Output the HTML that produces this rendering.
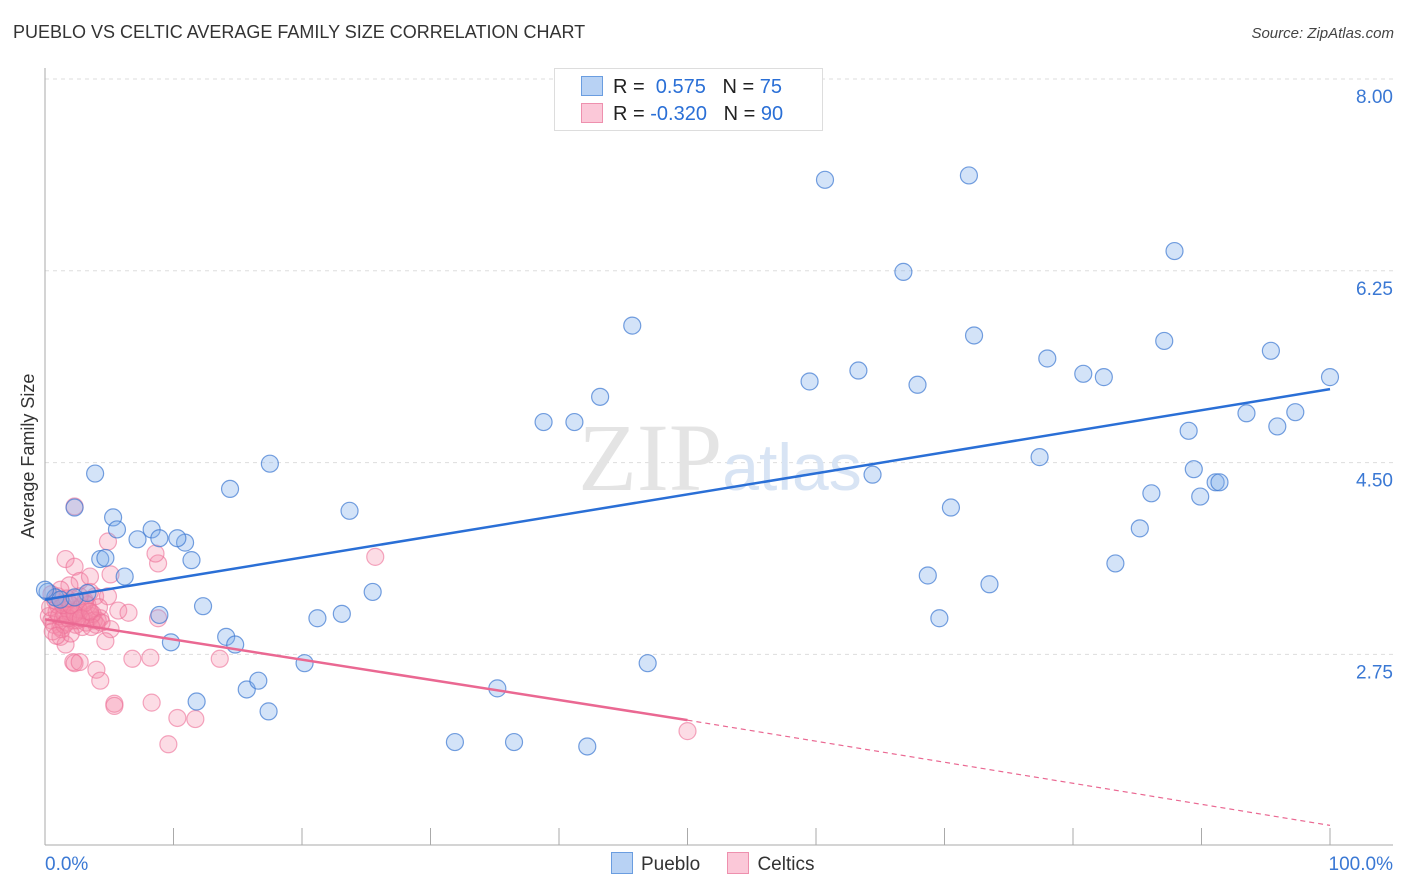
<!DOCTYPE html>
<html><head><meta charset="utf-8"><style>
body{margin:0;background:#fff;font-family:"Liberation Sans",sans-serif;}
#wrap{position:relative;width:1406px;height:892px;overflow:hidden;}
.t{position:absolute;white-space:nowrap;}
</style></head><body>
<div id="wrap">
<div class="t" style="left:13px;top:22px;font-size:18px;color:#333;">PUEBLO VS CELTIC AVERAGE FAMILY SIZE CORRELATION CHART</div>
<div class="t" style="right:12px;top:25px;font-size:15px;font-style:italic;color:#444;">Source: ZipAtlas.com</div>
<svg id="chart" width="1406" height="892" style="position:absolute;left:0;top:0"></svg>
</div>
<script>
const yTicks=[8.00,6.25,4.50,2.75];
const xLabels=["0.0%","100.0%"];
const puebloX=[0.2,0.8,3.3,2.3,3.9,5.3,5.6,4.3,4.7,6.2,7.2,8.3,8.9,10.9,11.4,10.3,8.9,9.8,12.3,14.1,14.8,14.4,17.5,11.8,15.7,16.6,17.4,20.2,21.2,23.1,23.7,25.5,31.9,35.2,36.5,42.2,38.8,41.2,43.2,45.7,46.9,59.5,60.7,63.3,64.4,66.8,67.9,68.7,69.6,70.5,71.9,72.3,73.5,77.4,78.0,80.8,82.4,83.3,85.2,86.1,87.1,87.9,89.0,89.4,89.9,91.1,91.4,93.5,95.4,95.9,97.3,100.0,1.2,2.3,0.0];
const puebloY=[3.32,3.27,3.31,4.09,4.40,4.00,3.89,3.62,3.63,3.46,3.80,3.89,3.81,3.77,3.61,3.81,3.11,2.86,3.19,2.91,2.84,4.26,4.49,2.32,2.43,2.51,2.23,2.67,3.08,3.12,4.06,3.32,1.95,2.44,1.95,1.91,4.87,4.87,5.10,5.75,2.67,5.24,7.08,5.34,4.39,6.24,5.21,3.47,3.08,4.09,7.12,5.66,3.39,4.55,5.45,5.31,5.28,3.58,3.90,4.22,5.61,6.43,4.79,4.44,4.19,4.32,4.32,4.95,5.52,4.83,4.96,5.28,3.25,3.27,3.34];
const celticX=[2.3,1.6,2.3,2.7,1.9,3.5,3.9,4.9,5.1,8.8,8.6,4.9,5.7,6.5,4.3,5.1,4.7,1.2,1.6,2.2,2.3,2.7,4.0,4.3,5.4,5.4,6.8,8.2,13.6,8.3,10.3,11.7,9.6,25.7,50.0,4.1,8.8,3.1,3.5,
0.3,0.5,0.7,0.9,1.0,1.2,1.4,1.5,1.7,1.8,2.0,2.2,2.4,2.6,2.8,3.0,3.2,3.4,3.6,3.8,4.0,0.4,0.8,1.1,1.3,1.6,1.9,2.1,2.5,2.9,3.3,3.7,4.2,0.6,1.0,1.5,2.0,2.6,3.1,0.9,1.8,2.7,3.6,1.4,2.3,0.5,1.2,2.0,2.8,3.5,1.7,4.4];
const celticY=[4.10,3.62,3.55,3.42,3.38,3.46,3.28,3.78,3.48,3.58,3.67,3.28,3.15,3.13,3.08,2.98,2.87,2.91,2.84,2.68,2.67,2.68,2.61,2.51,2.30,2.28,2.71,2.72,2.71,2.31,2.17,2.16,1.93,3.64,2.05,3.06,3.08,3.24,3.32,
3.10,3.06,3.02,3.14,3.20,3.00,3.08,3.12,3.04,3.16,3.10,3.06,3.02,3.12,3.18,3.08,3.04,3.14,3.10,3.06,3.02,3.18,3.24,3.10,2.98,3.22,3.14,3.26,3.06,3.00,3.20,3.12,3.18,2.96,3.28,3.02,2.94,3.16,3.22,2.92,3.08,3.28,3.00,3.20,3.12,3.30,3.34,3.20,3.08,3.14,3.26,3.04];
const blueTrend=[[0,3.25],[100,5.17]];
const pinkTrend=[[0,3.07],[50,2.15],[100,1.19]];

const svg=document.getElementById('chart');const NS='http://www.w3.org/2000/svg';
const X0=45,X1=1330,Y8=79,PX=109.6;
const xs=p=>X0+(X1-X0)*p/100;
const ys=v=>Y8+(8-v)*PX;
function mk(tag,attrs){const e=document.createElementNS(NS,tag);for(const k in attrs)e.setAttribute(k,attrs[k]);svg.appendChild(e);return e;}
yTicks.forEach((v,i)=>{const g=mk('line',{x1:45,x2:1393,y1:ys(v),y2:ys(v),stroke:'#ddd','stroke-dasharray':'4,4'});


const t=mk('text',{x:1393,y:ys(v)+24,'text-anchor':'end','font-size':19,fill:'#3a78d4','font-family':'Liberation Sans, sans-serif'});t.textContent=v.toFixed(2);

});
let ax=mk('line',{x1:45,x2:45,y1:68,y2:845,stroke:'#aaa'});


let bx=mk('line',{x1:45,x2:1393,y1:845,y2:845,stroke:'#aaa'});


for(let i=1;i<=10;i++){const l=mk('line',{x1:xs(i*10),x2:xs(i*10),y1:828,y2:845,stroke:'#aaa'});

}
[[xLabels[0],45,'start'],[xLabels[1],1393,'end']].forEach(a=>{const t=mk('text',{x:a[1],y:870,'text-anchor':a[2],'font-size':19,fill:'#3a78d4','font-family':'Liberation Sans, sans-serif'});t.textContent=a[0];

});
const yt=mk('text',{x:0,y:0,transform:'translate(34,456) rotate(-90)','text-anchor':'middle','font-size':18,fill:'#333','font-family':'Liberation Sans, sans-serif'});yt.textContent='Average Family Size';


const wm=mk('text',{x:720,y:490,'text-anchor':'middle','font-size':96,fill:'#e4e4e4','font-family':'Liberation Serif, serif'});wm.innerHTML='ZIP<tspan font-family="Liberation Sans, sans-serif" font-size="66" fill="#d8e4f4">atlas</tspan>';


celticX.forEach((x,i)=>{const c=mk('circle',{cx:xs(x),cy:ys(celticY[i]),r:8.5,fill:'rgba(244,140,170,0.3)',stroke:'rgba(236,110,150,0.6)','stroke-width':1.2});

});
puebloX.forEach((x,i)=>{const c=mk('circle',{cx:xs(x),cy:ys(puebloY[i]),r:8.5,fill:'rgba(130,175,235,0.35)',stroke:'rgba(60,120,210,0.7)','stroke-width':1.2});

});
const bl=mk('line',{x1:xs(blueTrend[0][0]),y1:ys(blueTrend[0][1]),x2:xs(blueTrend[1][0]),y2:ys(blueTrend[1][1]),stroke:'#2a6fd6','stroke-width':2.5});


const pl=mk('line',{x1:xs(pinkTrend[0][0]),y1:ys(pinkTrend[0][1]),x2:xs(pinkTrend[1][0]),y2:ys(pinkTrend[1][1]),stroke:'#ea6892','stroke-width':2.5});


const pd=mk('line',{x1:xs(pinkTrend[1][0]),y1:ys(pinkTrend[1][1]),x2:xs(pinkTrend[2][0]),y2:ys(pinkTrend[2][1]),stroke:'#ea6892','stroke-width':1.2,'stroke-dasharray':'5,4'});


</script>
<div style="position:absolute;left:554px;top:68px;width:267px;height:61px;border:1px solid #ddd;background:#fff;font-size:20px;">
 <div style="position:absolute;left:26px;top:7px;white-space:nowrap;"><span style="display:inline-block;width:20px;height:18px;background:#b8d2f4;border:1px solid #6a9de0;vertical-align:-3px;margin-right:10px;"></span><span style="color:#222">R = </span><span style="color:#2a6fd6">&nbsp;0.575</span><span style="color:#222">&nbsp;&nbsp;&nbsp;N = </span><span style="color:#2a6fd6">75</span></div>
 <div style="position:absolute;left:26px;top:34px;white-space:nowrap;"><span style="display:inline-block;width:20px;height:18px;background:#fbc8d8;border:1px solid #ee90ae;vertical-align:-3px;margin-right:10px;"></span><span style="color:#222">R = </span><span style="color:#2a6fd6">-0.320</span><span style="color:#222">&nbsp;&nbsp;&nbsp;N = </span><span style="color:#2a6fd6">90</span></div>
</div>
<div style="position:absolute;left:611px;top:852px;font-size:19px;color:#333;white-space:nowrap;">
 <span><span style="display:inline-block;width:20px;height:20px;background:#b8d2f4;border:1px solid #6a9de0;vertical-align:-4px;margin-right:8px;"></span>Pueblo</span>
 <span style="margin-left:22px;"><span style="display:inline-block;width:20px;height:20px;background:#fbc8d8;border:1px solid #ee90ae;vertical-align:-4px;margin-right:8px;"></span>Celtics</span>
</div>
</body></html>
